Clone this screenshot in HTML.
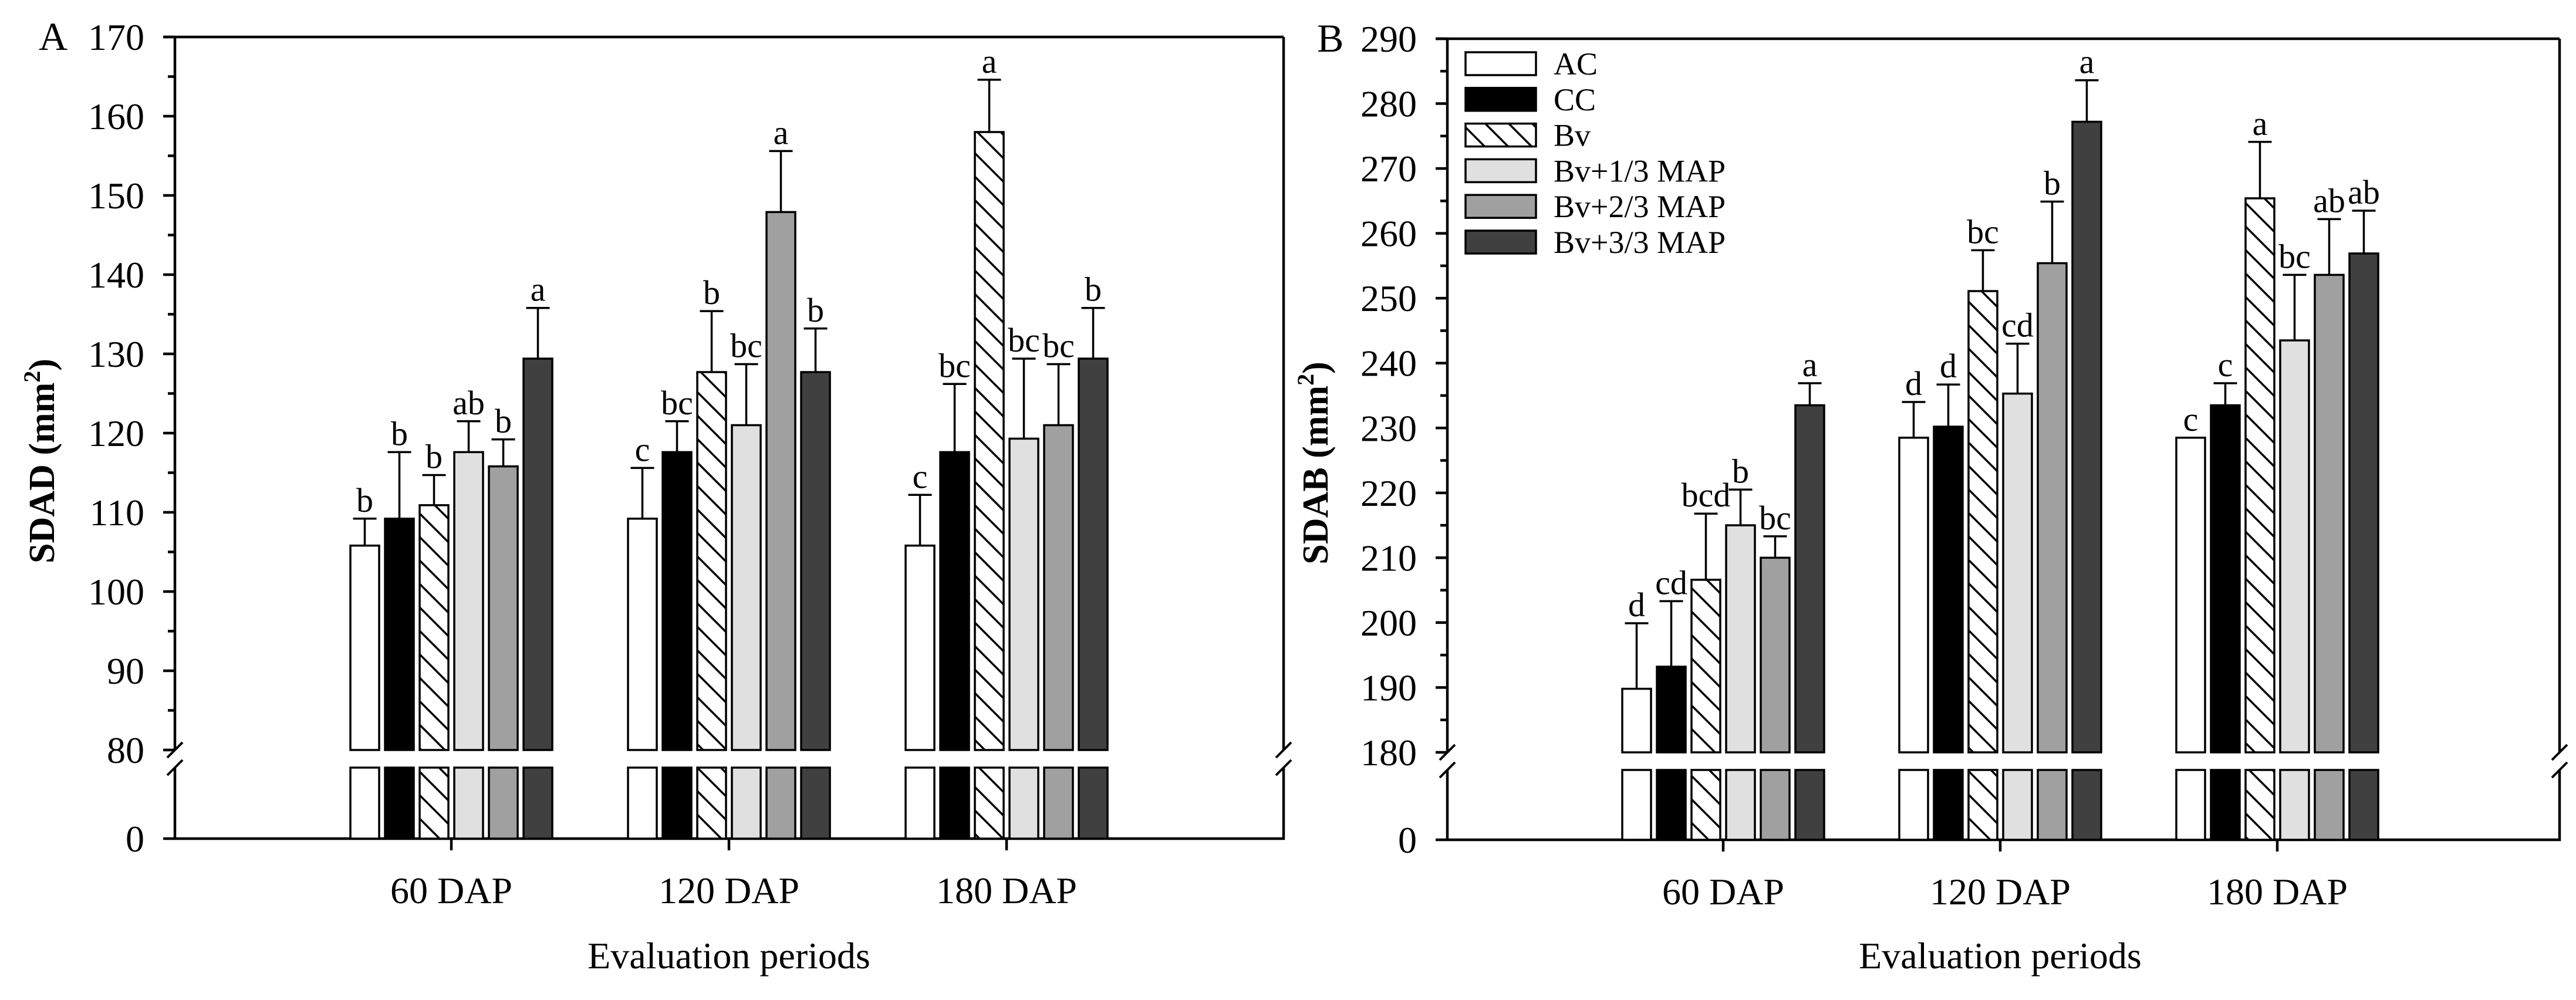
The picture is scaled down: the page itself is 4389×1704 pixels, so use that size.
<!DOCTYPE html>
<html><head><meta charset="utf-8"><style>
html,body{margin:0;padding:0;background:#fff}
svg{display:block}
text{font-family:"Liberation Serif",serif;fill:#000}
</style></head><body>
<svg id="chart" width="4389" height="1704" viewBox="0 0 4389 1704" xmlns="http://www.w3.org/2000/svg">
<defs>
<pattern id="hatch" patternUnits="userSpaceOnUse" width="40" height="40">
<rect width="40" height="40" fill="#fff"/>
<path d="M-10,-10 L50,50 M-10,30 L10,50 M30,-10 L50,10" stroke="#000" stroke-width="3.5"/>
</pattern>
</defs>
<g id="root"></g>
</svg>
<script>
const categories = ["60 DAP","120 DAP","180 DAP"];
const seriesNames = ["AC","CC","Bv","Bv+1/3 MAP","Bv+2/3 MAP","Bv+3/3 MAP"];
// Panel A (SDAD)
const aValues = [[105.8,109.2,110.9,117.6,115.8,129.4],[109.2,117.6,127.7,121.0,147.9,127.7],[105.8,117.6,158.0,119.3,121.0,129.4]];
const aErrTop = [[109.2,117.6,114.7,121.5,119.2,135.8],[115.6,121.5,135.4,128.7,155.6,133.2],[112.2,126.2,164.6,129.4,128.7,135.8]];
const aLetters = [["b","b","b","ab","b","a"],["c","bc","b","bc","a","b"],["c","bc","a","bc","bc","b"]];
const aTicks = [80,90,100,110,120,130,140,150,160,170];
// Panel B (SDAB)
const bValues = [[189.8,193.2,206.6,215.0,210.0,233.5],[228.5,230.2,251.1,235.3,255.4,277.2],[228.5,233.5,265.4,243.5,253.6,256.9]];
const bErrTop = [[199.9,203.3,216.8,220.5,213.3,236.9],[234.0,236.7,257.4,243.0,264.9,283.6],[228.5,236.9,274.1,253.6,262.2,263.5]];
const bLetters = [["d","cd","bcd","b","bc","a"],["d","d","bc","cd","b","a"],["c","c","a","bc","ab","ab"]];
const bTicks = [180,190,200,210,220,230,240,250,260,270,280,290];

const fills = ["#fff","#000","url(#hatch)","#e0e0e0","#a0a0a0","#404040"];
const NS = "http://www.w3.org/2000/svg";
const root = document.getElementById('root');
function mk(tag, attrs, parent, txt){
  const e = document.createElementNS(NS, tag);
  for (const k in attrs) e.setAttribute(k, attrs[k]);
  if (txt !== undefined) e.textContent = txt;
  (parent||root).appendChild(e);
  return e;
}

function panel(cfg){
  const g = mk('g', {});
  
  
  const {x0,x1,top,yb,yl,y0,vmin,vmax} = cfg;
  const y = v => top + (vmax - v) * (yb - top) / (vmax - vmin);
  const xc = i => cfg.centers[0] + i * (cfg.centers[1]-cfg.centers[0]);
  const pitch = 59, bw = 49;
  const sw = 4.5;
  const ax = mk('path', {d:`M${x0},${top} L${x0},${yb} M${x0},${yl} L${x0},${y0} M${x0-20},${y0} L${x1},${y0} L${x1},${yl} M${x1},${yb} L${x1},${top} M${x0-20},${top} L${x1},${top}`, fill:'none', stroke:'#000', 'stroke-width':sw}, g);
  
  
  [x0,x1].forEach(bx=>{
    [yb,yl].forEach(by=>{
      const br = mk('line',{x1:bx-13,y1:by+13,x2:bx+13,y2:by-13,stroke:'#000','stroke-width':4},g);
      
      
    });
  });
  cfg.ticks.forEach((t,k)=>{
    const ty = y(t);
    const tk = mk('line',{x1:x0-20,y1:ty,x2:x0,y2:ty,stroke:'#000','stroke-width':sw},g);
    
    
    if (k < cfg.ticks.length-1){
      const my = y(t+5);
      const mt = mk('line',{x1:x0-12,y1:my,x2:x0,y2:my,stroke:'#000','stroke-width':sw},g);
      
      
    }
    const lb = mk('text',{x:x0-52,y:ty+22,'text-anchor':'end','font-size':64},g,String(t));
    
    
  });
  const z = mk('text',{x:x0-52,y:y0+22,'text-anchor':'end','font-size':64},g,'0');
  
  
  categories.forEach((c,ci)=>{
    const cx = xc(ci);
    const tk = mk('line',{x1:cx,y1:y0,x2:cx,y2:y0+20,stroke:'#000','stroke-width':sw},g);
    
    
    const cl = mk('text',{x:cx,y:y0+110,'text-anchor':'middle','font-size':64},g,c);
    
    
    cfg.values[ci].forEach((v,si)=>{
      const bx = cx + (si-2.5)*pitch - bw/2;
      const by = y(v);
      const r1 = mk('rect',{x:bx,y:by,width:bw,height:yb-by,fill:fills[si],stroke:'#000','stroke-width':3.5},g);
      
      
      const r2 = mk('rect',{x:bx,y:yl,width:bw,height:y0-yl,fill:fills[si],stroke:'#000','stroke-width':3.5},g);
      
      
      const et = y(cfg.err[ci][si]);
      const bcx = bx + bw/2;
      if (cfg.err[ci][si] > v){
        const eb = mk('path',{d:`M${bcx},${by} L${bcx},${et} M${bcx-20},${et} L${bcx+20},${et}`,stroke:'#000','stroke-width':3.5,fill:'none'},g);
        
        
      }
      const lt = mk('text',{x:bcx,y:et-12,'text-anchor':'middle','font-size':58},g,cfg.letters[ci][si]);
      
      
    });
  });
  const xt = mk('text',{x:xc(1),y:1650,'text-anchor':'middle','font-size':64},g,'Evaluation periods');
  
  
  const ytx = cfg.yTitleX, yty = (top+yb)/2+115;
  const yt = mk('text',{x:ytx,y:yty,'text-anchor':'middle','font-size':62,'font-weight':'bold',transform:`rotate(-90 ${ytx} ${yty})`},g);
  
  
  mk('tspan',{},yt,cfg.yTitle+' (mm');
  mk('tspan',{'font-size':40,dy:-24},yt,'2');
  mk('tspan',{dy:24},yt,')');
  const pl = mk('text',{x:cfg.labelX,y:top+22,'font-size':68},g,cfg.label);
  
  
}

panel({name:'panel-a-sdad',x0:298,x1:2187,top:63,yb:1278,yl:1308,y0:1429,vmin:80,vmax:170,centers:[769,1242,1714],
  values:aValues,err:aErrTop,letters:aLetters,ticks:aTicks,yTitle:'SDAD',yTitleX:92,label:'A',labelX:66});
panel({name:'panel-b-sdab',x0:2466,x1:4361,top:66,yb:1282,yl:1312,y0:1431,vmin:180,vmax:290,centers:[2936,3408,3882],
  values:bValues,err:bErrTop,letters:bLetters,ticks:bTicks,yTitle:'SDAB',yTitleX:2262,label:'B',labelX:2244});

const lg = mk('g',{});


seriesNames.forEach((n,i)=>{
  const ly = 89 + i*60.8;
  const r = mk('rect',{x:2497,y:ly,width:120,height:39,fill:fills[i],stroke:'#000','stroke-width':3.5},lg);
  
  
  const t = mk('text',{x:2647,y:ly+38,'font-size':54},lg,n);
  
  
});
</script>
</body></html>
